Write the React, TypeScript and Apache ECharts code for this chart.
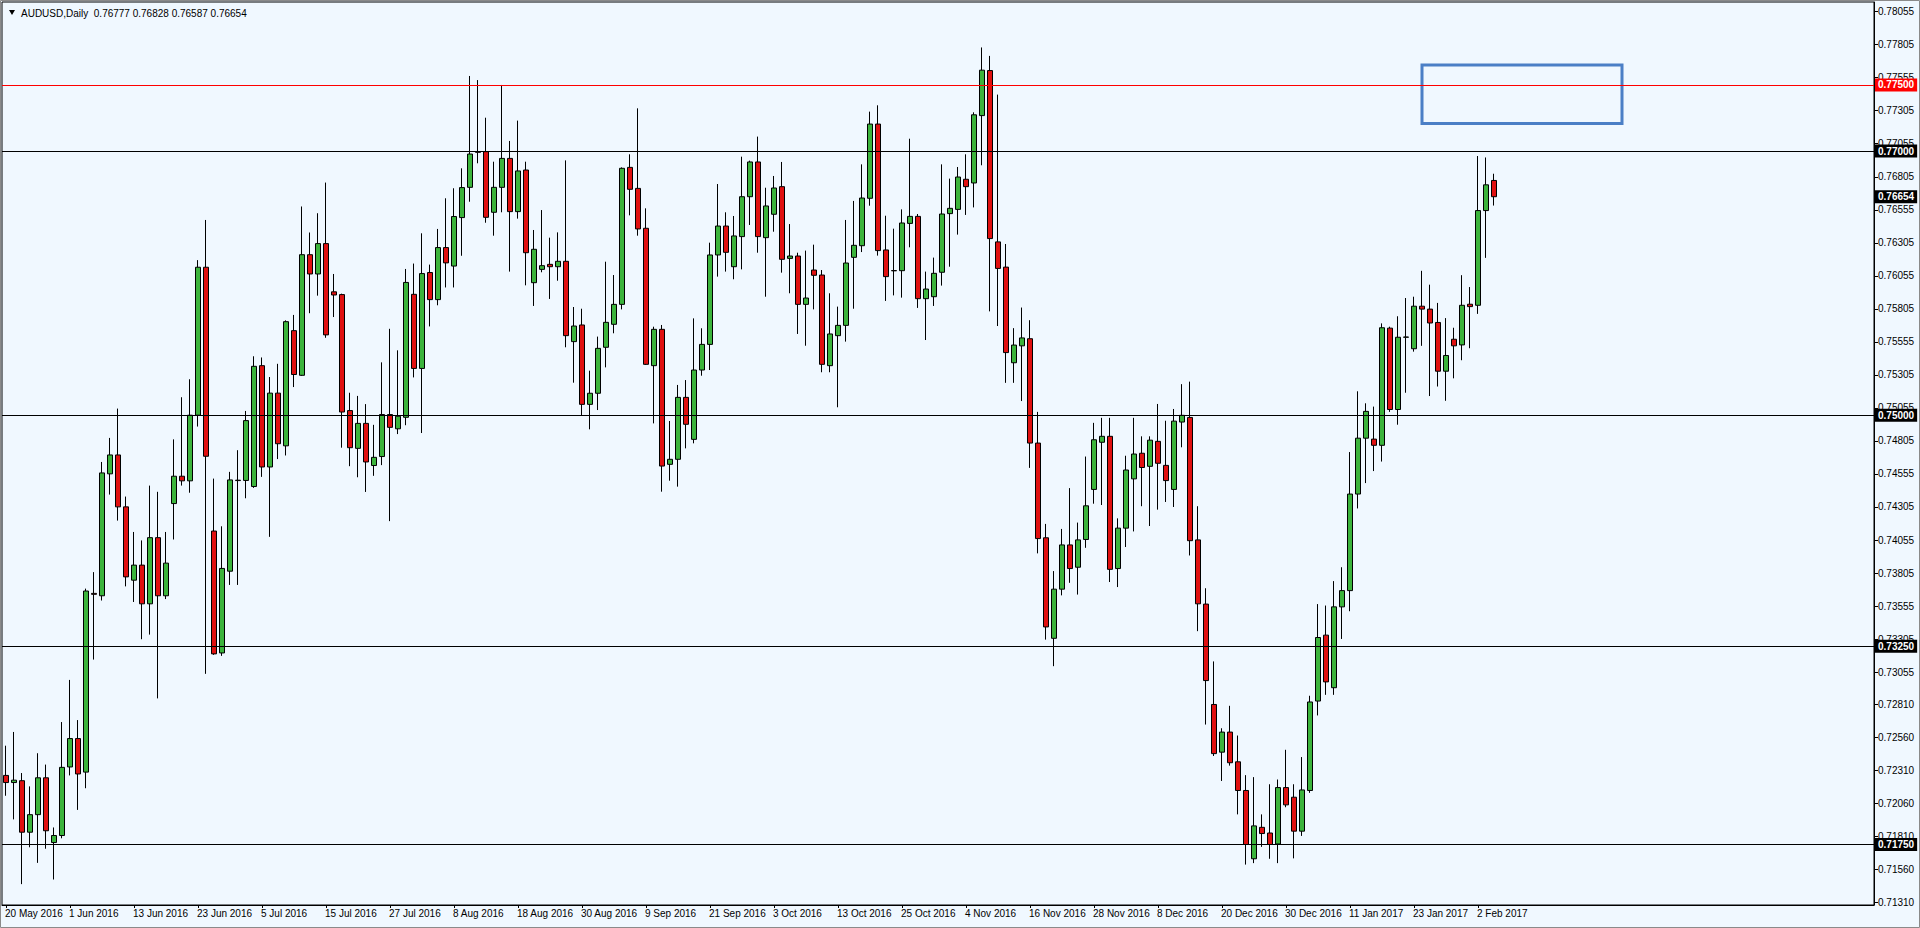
import React, { useEffect, useRef } from "react";
import * as echarts from "echarts";

// ---- data (AUDUSD Daily) ----
const START = { y: 2016, m: 4, d: 20 }; // 20 May 2016, first bar
const TOTAL_SLOTS = 234; // bars + empty chart shift on the right

const OPEN = [
  0.72273, 0.72219, 0.72233, 0.71843, 0.71976, 0.72255, 0.71765, 0.71818, 0.72337, 0.72552,
  0.72298, 0.73651, 0.73633, 0.74556, 0.74699, 0.74306, 0.73751, 0.73865, 0.73572, 0.74073,
  0.73633, 0.74331, 0.74538, 0.74503, 0.75, 0.7612, 0.74123, 0.732, 0.73819, 0.74505,
  0.74506, 0.7446, 0.75375, 0.74608, 0.75167, 0.74768, 0.7564, 0.75302, 0.76215, 0.76069,
  0.76299, 0.75934, 0.75913, 0.75035, 0.74749, 0.74938, 0.74619, 0.74687, 0.75005, 0.74897,
  0.74984, 0.75915, 0.75354, 0.7608, 0.75875, 0.76269, 0.76129, 0.76496, 0.76725, 0.76995,
  0.76995, 0.76536, 0.76725, 0.76944, 0.76541, 0.76856, 0.76003, 0.76104, 0.76142, 0.76124,
  0.76165, 0.75557, 0.75683, 0.75082, 0.75166, 0.75514, 0.75688, 0.75839, 0.76876, 0.76717,
  0.76415, 0.75375, 0.7565, 0.74628, 0.74666, 0.75135, 0.74817, 0.75342, 0.75536, 0.76213,
  0.76432, 0.76124, 0.76352, 0.76654, 0.76917, 0.76344, 0.76521, 0.7673, 0.76187, 0.76205,
  0.75839, 0.76099, 0.76061, 0.75375, 0.75602, 0.7568, 0.76195, 0.76283, 0.76642, 0.77204,
  0.76251, 0.76095, 0.76094, 0.76452, 0.76505, 0.75882, 0.75897, 0.76082, 0.76526, 0.76558,
  0.76786, 0.76758, 0.77268, 0.77609, 0.76312, 0.76121, 0.75397, 0.75525, 0.75579, 0.74789,
  0.74072, 0.73311, 0.73683, 0.74018, 0.73849, 0.74059, 0.74438, 0.74795, 0.7484, 0.73839,
  0.74145, 0.74518, 0.74712, 0.74613, 0.74802, 0.7462, 0.74438, 0.74948, 0.74983, 0.74056,
  0.7357, 0.7281, 0.72449, 0.72601, 0.72376, 0.72159, 0.71642, 0.7188, 0.71837, 0.71754,
  0.72181, 0.72108, 0.71851, 0.72159, 0.72836, 0.73335, 0.72937, 0.73549, 0.73672, 0.74403,
  0.74826, 0.74819, 0.74772, 0.75659, 0.75043, 0.7559, 0.75503, 0.75825, 0.75803, 0.75702,
  0.75333, 0.75575, 0.75532, 0.7584, 0.75832, 0.76549, 0.76777,
];

const HIGH = [
  0.72498, 0.72602, 0.72291, 0.7219, 0.72441, 0.72355, 0.71879, 0.72677, 0.72996, 0.72692,
  0.73687, 0.73812, 0.74646, 0.74828, 0.7505, 0.74384, 0.74116, 0.74052, 0.74467, 0.7442,
  0.74116, 0.74817, 0.75136, 0.75272, 0.76174, 0.76478, 0.7452, 0.74159, 0.74571, 0.74735,
  0.75032, 0.75446, 0.75437, 0.75289, 0.75389, 0.75718, 0.75759, 0.7658, 0.76383, 0.76529,
  0.76761, 0.76069, 0.7592, 0.7517, 0.75146, 0.75084, 0.74927, 0.754, 0.75654, 0.75491,
  0.76107, 0.76148, 0.76377, 0.7614, 0.7641, 0.76642, 0.76718, 0.76869, 0.77568, 0.77537,
  0.77252, 0.76919, 0.775, 0.77076, 0.7723, 0.76919, 0.76402, 0.76553, 0.76344, 0.76384,
  0.76929, 0.75819, 0.75806, 0.75337, 0.75595, 0.76162, 0.76061, 0.76876, 0.76975, 0.77323,
  0.76566, 0.7567, 0.75683, 0.74956, 0.75229, 0.75266, 0.75733, 0.75658, 0.76306, 0.7675,
  0.76536, 0.76508, 0.76957, 0.76927, 0.77109, 0.76722, 0.76811, 0.76917, 0.76447, 0.7623,
  0.76246, 0.76291, 0.76099, 0.75923, 0.75822, 0.76478, 0.76622, 0.76899, 0.77298, 0.77346,
  0.7651, 0.76412, 0.76558, 0.77093, 0.76523, 0.76087, 0.76193, 0.76899, 0.76791, 0.76879,
  0.76975, 0.77293, 0.77784, 0.7772, 0.77427, 0.76296, 0.75659, 0.75815, 0.75719, 0.75025,
  0.74177, 0.7382, 0.74139, 0.74448, 0.74187, 0.74687, 0.74942, 0.7498, 0.7498, 0.74219,
  0.74693, 0.7498, 0.7484, 0.7484, 0.75085, 0.74958, 0.75047, 0.75235, 0.75254, 0.74311,
  0.7369, 0.73136, 0.7263, 0.728, 0.72575, 0.72275, 0.7226, 0.71978, 0.72206, 0.72242,
  0.72467, 0.72206, 0.72412, 0.72876, 0.7357, 0.73559, 0.73744, 0.73849, 0.74721, 0.75181,
  0.7509, 0.75065, 0.75695, 0.7567, 0.75749, 0.75887, 0.75897, 0.76093, 0.75988, 0.7585,
  0.75735, 0.75662, 0.7606, 0.7597, 0.76962, 0.76951, 0.76828,
];

const LOW = [
  0.72119, 0.7194, 0.7145, 0.71729, 0.71611, 0.71718, 0.71485, 0.71797, 0.72273, 0.72012,
  0.72176, 0.7315, 0.73597, 0.74399, 0.74202, 0.73704, 0.73586, 0.73304, 0.73339, 0.72856,
  0.73608, 0.74059, 0.74467, 0.74413, 0.74914, 0.73042, 0.73186, 0.73178, 0.73715, 0.73715,
  0.74371, 0.7445, 0.74533, 0.74079, 0.74668, 0.74695, 0.75213, 0.75297, 0.75772, 0.75905,
  0.75586, 0.75743, 0.74754, 0.74614, 0.7453, 0.74419, 0.74541, 0.74622, 0.74198, 0.74857,
  0.74924, 0.75286, 0.74865, 0.75672, 0.75832, 0.75967, 0.75967, 0.76207, 0.76616, 0.76907,
  0.76457, 0.76359, 0.76536, 0.76087, 0.76488, 0.75983, 0.75827, 0.76082, 0.7588, 0.76018,
  0.75514, 0.75246, 0.74999, 0.74893, 0.75039, 0.75362, 0.7562, 0.75801, 0.76513, 0.76359,
  0.7538, 0.74938, 0.74421, 0.74504, 0.74459, 0.74749, 0.74787, 0.75299, 0.75342, 0.76049,
  0.76087, 0.76029, 0.76104, 0.7644, 0.7623, 0.75897, 0.76389, 0.76079, 0.75923, 0.75615,
  0.75526, 0.75801, 0.75325, 0.75325, 0.7506, 0.75557, 0.75806, 0.76235, 0.76586, 0.76208,
  0.75865, 0.75907, 0.7589, 0.76271, 0.75812, 0.75569, 0.75827, 0.75981, 0.76124, 0.76367,
  0.76516, 0.76573, 0.76892, 0.75786, 0.75675, 0.75245, 0.75245, 0.75107, 0.74601, 0.73954,
  0.73301, 0.731, 0.73636, 0.73731, 0.73642, 0.73996, 0.7433, 0.7432, 0.73737, 0.73699,
  0.74002, 0.7412, 0.74311, 0.74161, 0.74285, 0.74343, 0.74305, 0.74757, 0.73938, 0.73365,
  0.72658, 0.7242, 0.72231, 0.72347, 0.71978, 0.71598, 0.71609, 0.71732, 0.71642, 0.71609,
  0.72032, 0.71645, 0.71815, 0.72141, 0.72727, 0.72883, 0.72883, 0.73306, 0.73516, 0.74294,
  0.74486, 0.74577, 0.74649, 0.75025, 0.74928, 0.7517, 0.75481, 0.75525, 0.75145, 0.75217,
  0.75109, 0.75279, 0.75416, 0.75507, 0.75767, 0.76191, 0.76587,
];

const CLOSE = [
  0.72219, 0.72237, 0.71843, 0.71976, 0.72255, 0.71854, 0.71818, 0.72334, 0.72552, 0.72284,
  0.73669, 0.73644, 0.74563, 0.74699, 0.74306, 0.73776, 0.73865, 0.73572, 0.74073, 0.73633,
  0.7388, 0.74538, 0.74503, 0.75, 0.7612, 0.74689, 0.73193, 0.7384, 0.7451, 0.74508,
  0.74959, 0.7537, 0.74608, 0.75167, 0.74784, 0.75708, 0.75308, 0.76215, 0.76069, 0.76299,
  0.75608, 0.7591, 0.75024, 0.74754, 0.74938, 0.74646, 0.74681, 0.75005, 0.74908, 0.74992,
  0.76005, 0.75354, 0.76072, 0.75875, 0.76269, 0.76153, 0.76504, 0.76723, 0.76977, 0.7699,
  0.76498, 0.76725, 0.76944, 0.76541, 0.76849, 0.7623, 0.76256, 0.76132, 0.76124, 0.76165,
  0.75602, 0.75675, 0.75082, 0.75166, 0.75506, 0.75703, 0.75839, 0.76869, 0.7671, 0.7641,
  0.75385, 0.7565, 0.74615, 0.74666, 0.75135, 0.74931, 0.75342, 0.75536, 0.76213, 0.76432,
  0.76233, 0.76357, 0.76654, 0.76917, 0.76352, 0.76584, 0.7672, 0.7618, 0.76205, 0.75839,
  0.75887, 0.76059, 0.75385, 0.75615, 0.7568, 0.76152, 0.76286, 0.76644, 0.77204, 0.76246,
  0.76049, 0.76093, 0.76455, 0.76505, 0.75882, 0.75955, 0.76074, 0.76523, 0.76566, 0.76803,
  0.7673, 0.77274, 0.77612, 0.76337, 0.76111, 0.75474, 0.75531, 0.75585, 0.74789, 0.74066,
  0.73397, 0.73683, 0.74018, 0.73839, 0.74056, 0.74314, 0.74814, 0.7484, 0.73833, 0.74145,
  0.74585, 0.74706, 0.74604, 0.74811, 0.74636, 0.74505, 0.74955, 0.74999, 0.7405, 0.73572,
  0.72991, 0.72438, 0.72601, 0.72369, 0.72159, 0.7175, 0.71891, 0.71833, 0.7175, 0.72181,
  0.7205, 0.71851, 0.72163, 0.72829, 0.73317, 0.72981, 0.73549, 0.73672, 0.74403, 0.74826,
  0.75029, 0.74772, 0.75662, 0.75043, 0.7559, 0.75592, 0.75825, 0.75803, 0.75698, 0.75333,
  0.75452, 0.75525, 0.75832, 0.75822, 0.76549, 0.76744, 0.76654,
];

const PRICE_TICKS = [
  0.7131, 0.7156, 0.7181, 0.7206, 0.7231, 0.7256, 0.7281, 0.73055, 0.73305, 0.73555,
  0.73805, 0.74055, 0.74305, 0.74555, 0.74805, 0.75055, 0.75305, 0.75555, 0.75805, 0.76055,
  0.76305, 0.76555, 0.76805, 0.77055, 0.77305, 0.77555, 0.77805, 0.78055,
];

const BLACK_LEVELS = [0.77, 0.75, 0.7325, 0.7175];
const RED_LEVEL = 0.775;
const BID_PRICE = 0.76654;
const BOX_X = [177, 202]; // bar slots
const BOX_Y = [0.77652, 0.77208];

const MONTHS = ["Jan", "Feb", "Mar", "Apr", "May", "Jun", "Jul", "Aug", "Sep", "Oct", "Nov", "Dec"];

function buildDates(n: number): string[] {
  const out: string[] = [];
  const d = new Date(Date.UTC(START.y, START.m, START.d));
  while (out.length < n) {
    const wd = d.getUTCDay();
    if (wd !== 0 && wd !== 6) {
      out.push(`${d.getUTCDate()} ${MONTHS[d.getUTCMonth()]} ${d.getUTCFullYear()}`);
    }
    d.setUTCDate(d.getUTCDate() + 1);
  }
  return out;
}

const FONT = "'Liberation Sans', Arial, sans-serif";

export default function App() {
  const ref = useRef<HTMLDivElement>(null);

  useEffect(() => {
    if (!ref.current) return;
    const chart = echarts.init(ref.current, undefined, { renderer: "svg" });
    const N = OPEN.length;
    const dates = buildDates(TOTAL_SLOTS);
    const candles = OPEN.map((o, i) => [o, CLOSE[i], LOW[i], HIGH[i]]);
    const last = N - 1;
    const title = `AUDUSD,Daily  ${OPEN[last].toFixed(5)} ${HIGH[last].toFixed(5)} ${LOW[last].toFixed(5)} ${CLOSE[last].toFixed(5)}`;

    const showIdx = (idx: number) => idx % 8 === 0 && idx < N;

    chart.setOption({
      animation: false,
      backgroundColor: "#F0F8FF",
      grid: {
        left: 2,
        right: 46,
        top: 2,
        bottom: 23,
        show: true,
        borderColor: "#000",
        borderWidth: 1,
        backgroundColor: "transparent",
      },
      xAxis: {
        type: "category",
        data: dates,
        boundaryGap: true,
        axisLine: { show: true, lineStyle: { color: "#000", width: 1 } },
        axisTick: {
          show: true,
          alignWithLabel: true,
          interval: (idx: number) => showIdx(idx),
          length: 3,
          lineStyle: { color: "#000" },
        },
        axisLabel: {
          interval: (idx: number) => showIdx(idx),
          align: "left",
          margin: 3,
          color: "#000",
          fontSize: 10,
          fontFamily: FONT,
          padding: [0, 0, 0, -1],
        },
        splitLine: { show: false },
      },
      yAxis: {
        type: "value",
        position: "right",
        min: 0.71292,
        max: 0.78128,
        axisLine: { show: true, lineStyle: { color: "#000", width: 1 } },
        axisTick: {
          show: true,
          customValues: PRICE_TICKS,
          length: 4,
          lineStyle: { color: "#000" },
        },
        axisLabel: {
          customValues: PRICE_TICKS,
          formatter: (v: number) => v.toFixed(5),
          color: "#000",
          fontSize: 10,
          fontFamily: FONT,
          margin: 4,
        },
        splitLine: { show: false },
      },
      graphic: [
        {
          type: "rect",
          silent: true,
          shape: { x: 0.5, y: 0.5, width: 1919, height: 927 },
          style: { fill: "none", stroke: "#8a8a8a", lineWidth: 1 },
          z: 100,
        },
        {
          type: "polygon",
          silent: true,
          shape: { points: [[9, 10], [15, 10], [12, 15]] },
          style: { fill: "#000" },
          z: 100,
        },
        {
          type: "text",
          silent: true,
          x: 21,
          y: 13,
          style: {
            text: title,
            fill: "#000",
            fontSize: 10,
            fontFamily: FONT,
            verticalAlign: "middle",
            align: "left",
          },
          z: 100,
        },
      ],
      series: [
        {
          type: "candlestick",
          data: candles,
          barWidth: 5,
          itemStyle: {
            color: "#3cb43c",
            color0: "#e01010",
            borderColor: "#000",
            borderColor0: "#000",
            borderColorDoji: "#000",
            borderWidth: 1,
          },
          emphasis: { disabled: true },
          markLine: {
            silent: true,
            precision: 5,
            symbol: ["none", "none"],
            animation: false,
            lineStyle: { color: "#000", width: 1, type: "solid" },
            label: {
              show: true,
              position: "end",
              distance: 1,
              formatter: (p: any) => Number(p.value).toFixed(5),
              color: "#fff",
              backgroundColor: "#000",
              padding: [2, 3, 1, 3],
              fontSize: 10,
              fontFamily: FONT,
              fontWeight: "bold",
            },
            emphasis: { disabled: true },
            data: [
              ...BLACK_LEVELS.map((v) => ({ yAxis: v })),
              {
                yAxis: RED_LEVEL,
                lineStyle: { color: "#ff0000", width: 1, type: "solid" },
                label: { backgroundColor: "#ff0000", color: "#fff" },
              },
              {
                yAxis: BID_PRICE,
                lineStyle: { color: "rgba(0,0,0,0)", width: 1, type: "solid" },
                label: { backgroundColor: "#000", color: "#fff" },
              },
            ],
          },
          markArea: {
            silent: true,
            itemStyle: {
              color: "rgba(0,0,0,0)",
              borderColor: "#4b7fc6",
              borderWidth: 3,
            },
            data: [
              [
                { coord: [BOX_X[0], BOX_Y[0]] },
                { coord: [BOX_X[1], BOX_Y[1]] },
              ],
            ],
          },
        },
      ],
    });

    return () => chart.dispose();
  }, []);

  return (
    <div
      ref={ref}
      style={{ position: "fixed", left: 0, top: 0, width: 1920, height: 928 }}
    />
  );
}
